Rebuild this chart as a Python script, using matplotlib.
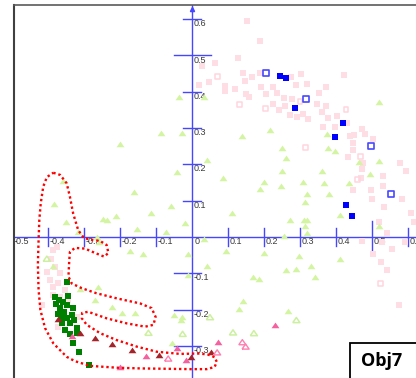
import numpy as np
import matplotlib
matplotlib.use('Agg')
import matplotlib.pyplot as plt
from matplotlib.patches import Rectangle

# ---------------- data ----------------
pink_sq_x = [0.153, 0.189, 0.063, 0.126, 0.026, 0.142, 0.166, 0.188, 0.146, 0.047, 0.018, 0.091, 0.091,
             0.119, 0.190, 0.225, 0.149, 0.158, 0.205, 0.236, 0.255, 0.276, 0.274, 0.302, 0.288, 0.319,
             0.225, 0.240, 0.258, 0.271, 0.290, 0.308, 0.321, 0.352, 0.372, 0.421, 0.347, 0.372, 0.360,
             0.378, 0.401, 0.431, 0.362, 0.396, 0.437, 0.449, 0.471, 0.479, 0.501, 0.447, 0.446, 0.433,
             0.474, 0.471, 0.577, 0.593, 0.529, 0.529, 0.496, 0.446, 0.469, 0.582, 0.498, 0.533, 0.607,
             0.616, 0.519, 0.542, 0.526, 0.590, 0.555, 0.503, 0.523, 0.542, 0.575, 0.471,
             -0.386, -0.377, -0.393, -0.404, -0.381, -0.367, -0.395, -0.386, -0.372, -0.354, -0.386,
             -0.367, -0.345, -0.418, -0.321, -0.372]
pink_sq_y = [0.596, 0.540, 0.479, 0.492, 0.471, 0.453, 0.440, 0.453, 0.430, 0.428, 0.419, 0.416, 0.403,
             0.407, 0.412, 0.414, 0.393, 0.387, 0.393, 0.396, 0.384, 0.379, 0.442, 0.450, 0.420, 0.421,
             0.366, 0.350, 0.361, 0.335, 0.331, 0.339, 0.324, 0.398, 0.414, 0.447, 0.366, 0.361, 0.344,
             0.328, 0.333, 0.315, 0.304, 0.302, 0.278, 0.280, 0.298, 0.283, 0.269, 0.259, 0.240, 0.220,
             0.203, 0.187, 0.205, 0.182, 0.167, 0.140, 0.130, 0.129, 0.162, 0.105, 0.105, 0.083, 0.067,
             0.040, 0.042, 0.010, -0.013, -0.014, -0.033, -0.047, -0.068, -0.091, -0.187, -0.010,
             -0.036, -0.027, -0.061, -0.096, -0.082, -0.100, -0.118, -0.137, -0.128, -0.146, -0.160,
             -0.164, -0.174, -0.187, -0.220, -0.247]

pink_open_x = [0.069, 0.130, 0.203, 0.299, 0.427, 0.314, 0.467, 0.458, 0.523]
pink_open_y = [0.442, 0.366, 0.353, 0.373, 0.352, 0.247, 0.222, 0.159, -0.128]

blue_x = [0.244, 0.259, 0.286, 0.419, 0.397, 0.427, 0.445]
blue_y = [0.444, 0.439, 0.355, 0.313, 0.276, 0.088, 0.058]

blue_open_x = [0.206, 0.315, 0.496, 0.551]
blue_open_y = [0.451, 0.381, 0.252, 0.118]

green_tri_x = [-0.037, 0.033, -0.088, -0.028, -0.200, 0.040, -0.042, -0.360, -0.161, -0.384, -0.351,
               -0.249, -0.236, -0.212, -0.115, -0.058, -0.020, -0.154, -0.074, -0.318, -0.266, -0.259,
               -0.173, -0.136, -0.013, 0.040, -0.011, -0.263, -0.311, -0.270, -0.224, -0.194, -0.158,
               -0.051, -0.029, -0.032, -0.056, 0.169, 0.184, 0.142, 0.129, 0.267, 0.200, 0.187,
               0.246, 0.308, 0.366, 0.434, 0.318, 0.313, 0.379, 0.109, 0.271, 0.309, 0.319, 0.314, 0.409,
               0.520, 0.320, 0.255, 0.033, 0.094, 0.200, 0.296, 0.330, 0.259, 0.288, 0.410, 0.341, 0.137,
               0.216, 0.249, 0.260, 0.250, 0.084, 0.519, 0.374, 0.378, 0.397, 0.361, 0.463, 0.519, 0.494,
               -0.386]
green_tri_y = [0.385, 0.387, 0.286, 0.287, 0.255, 0.212, 0.180, 0.155, 0.125, 0.091, 0.041,
               0.049, 0.047, 0.058, 0.067, 0.085, 0.039, 0.023, 0.015, 0.015, 0.000, -0.013,
               -0.038, -0.047, -0.047, -0.079, -0.105, -0.137, -0.143, -0.174, -0.194, -0.208, -0.209,
               -0.215, -0.220, -0.229, -0.291, -0.109, -0.116, -0.177, -0.199, -0.204, 0.151, 0.132,
               0.140, 0.152, 0.150, 0.148, 0.118, 0.097, 0.118, 0.067, 0.048, 0.048, 0.048, 0.030, 0.061,
               0.029, 0.011, 0.004, -0.006, -0.039, -0.043, -0.052, -0.079, -0.090, -0.089, -0.061, -0.109, 0.277,
               0.295, 0.245, 0.219, 0.183, 0.162, 0.373, 0.283, 0.244, 0.238, 0.183, 0.207, 0.210, 0.174,
               -0.080]

green_open_x = [-0.404, -0.122, -0.027, 0.049, 0.113, 0.171, 0.289]
green_open_y = [-0.060, -0.264, -0.267, -0.221, -0.263, -0.265, -0.229]

dkgreen_x = [-0.349, -0.381, -0.370, -0.358, -0.349, -0.331, -0.368, -0.372, -0.356, -0.335, -0.349,
             -0.363, -0.340, -0.354, -0.321, -0.321, -0.340, -0.331, -0.314, -0.288, -0.378, -0.345,
             -0.362, -0.328]
dkgreen_y = [-0.123, -0.166, -0.174, -0.178, -0.187, -0.196, -0.196, -0.213, -0.207, -0.215, -0.224,
             -0.238, -0.238, -0.256, -0.252, -0.265, -0.267, -0.293, -0.318, -0.353, -0.185, -0.163,
             -0.223, -0.229]

dkred_x = [-0.374, -0.312, -0.270, -0.224, -0.167, -0.092, -0.004, 0.051]
dkred_y = [-0.226, -0.264, -0.278, -0.295, -0.312, -0.324, -0.331, -0.318]

hotpink_x = [-0.335, -0.200, -0.128, -0.043, -0.018, 0.072, 0.231]
hotpink_y = [-0.273, -0.357, -0.327, -0.307, -0.340, -0.289, -0.242]

pink_tri_open_x = [-0.067, 0.069, 0.139, 0.148]
pink_tri_open_y = [-0.335, -0.318, -0.290, -0.302]

contour_x = [-0.386, -0.367, -0.349, -0.340, -0.331, -0.317, -0.301, -0.278, -0.256, -0.238, -0.233,
             -0.245, -0.270, -0.298, -0.326, -0.340, -0.342, -0.344, -0.335, -0.307, -0.266, -0.210,
             -0.145, -0.113, -0.102, -0.108, -0.131, -0.182, -0.238, -0.289, -0.306, -0.307, -0.293,
             -0.256, -0.210, -0.154, -0.099, -0.034, 0.021, 0.044, 0.062, 0.068, 0.062, 0.040, -0.006,
             -0.071, -0.145, -0.210, -0.284, -0.326, -0.349, -0.386, -0.409, -0.422, -0.427, -0.429,
             -0.427, -0.425, -0.421, -0.414, -0.404, -0.386]
contour_y = [0.177, 0.171, 0.148, 0.111, 0.065, 0.019, -0.003, -0.008, -0.011, -0.022, -0.044,
             -0.054, -0.044, -0.032, -0.030, -0.041, -0.068, -0.109, -0.128, -0.141, -0.155, -0.169,
             -0.183, -0.196, -0.220, -0.242, -0.247, -0.238, -0.224, -0.206, -0.209, -0.224, -0.242,
             -0.265, -0.284, -0.302, -0.316, -0.322, -0.321, -0.324, -0.331, -0.344, -0.358, -0.364, -0.364,
             -0.363, -0.362, -0.360, -0.355, -0.342, -0.330, -0.293, -0.251, -0.201, -0.146, -0.077,
             -0.008, 0.047, 0.093, 0.139, 0.165, 0.177]

xticks = [-0.5, -0.4, -0.3, -0.2, -0.1, 0.1, 0.2, 0.3, 0.4, 0.5, 0.6]
yticks = [-0.3, -0.2, -0.1, 0.1, 0.2, 0.3, 0.4, 0.5, 0.6]
box_label = "Obj7"

# ---------------- drawing ----------------
AXC = '#4646ff'
LBL = '#3a3a3a'
FONT = ['Liberation Sans', 'DejaVu Sans']

fig = plt.figure(figsize=(4.16, 3.78), dpi=100)
fig.patch.set_facecolor('white')
ax = fig.add_axes([14 / 416, 0, 402 / 416, 373 / 378])
ax.set_xlim(-0.4953, 0.6214)
ax.set_ylim(-0.3884, 0.6391)
ax.set_xticks([])
ax.set_yticks([])
ax.spines['right'].set_visible(False)
ax.spines['bottom'].set_visible(False)
ax.spines['left'].set_color('#404040')
ax.spines['left'].set_linewidth(1.5)
ax.spines['top'].set_color('#5a5a5a')
ax.spines['top'].set_linewidth(1.2)

# axis lines through the origin
ax.axhline(0, color=AXC, lw=1.0, zorder=1)
ax.axvline(0, color=AXC, lw=1.0, zorder=1)
ax.plot([0], [0.628], marker='^', ms=3, color=AXC, zorder=1, clip_on=False)

for v in xticks:
    h = 0.044 if abs(v - 0.5) < 1e-9 else 0.025
    ax.plot([v, v], [-h, h], color=AXC, lw=1.0, zorder=1)
    ax.annotate(f"{v:.1f}", xy=(v, 0), xytext=(1.2, -3.3), textcoords='offset points',
                ha='left', va='center', fontsize=6.5, color=LBL, family=FONT, zorder=1,
                annotation_clip=False)
for v in yticks:
    if abs(v - 0.5) < 1e-9:
        x0, x1 = -0.05, 0.052
    elif v < 0:
        x0, x1 = -0.05, 0.025
    else:
        x0, x1 = -0.025, 0.025
    ax.plot([x0, x1], [v, v], color=AXC, lw=1.0, zorder=1)
    ax.annotate(f"{v:.1f}", xy=(0, v), xytext=(0.7, -3.3), textcoords='offset points',
                ha='left', va='center', fontsize=6.5, color=LBL, family=FONT, zorder=1,
                annotation_clip=False)
ax.annotate("0", xy=(0, 0), xytext=(1.5, -3.3), textcoords='offset points',
            ha='left', va='center', fontsize=6.5, color=LBL, family=FONT, zorder=1)

tri = [(-1, -0.7), (1, -0.7), (0, 0.75), (-1, -0.7)]

ax.scatter(pink_sq_x, pink_sq_y, marker='s', s=14, color='#ffdde4', lw=0, zorder=2)
ax.scatter(pink_open_x, pink_open_y, marker='s', s=12, facecolor='none', edgecolor='#ffd6de', lw=1.1, zorder=2)
ax.scatter(green_tri_x, green_tri_y, marker=tri, s=32, color='#d3f5a2', lw=0, zorder=3)
ax.scatter(green_open_x, green_open_y, marker=tri, s=26, facecolor='none', edgecolor='#ccf0a0', lw=1.1, zorder=3)
ax.scatter(dkgreen_x, dkgreen_y, marker='s', s=22, color='#008000', lw=0, zorder=4)
ax.scatter(blue_x, blue_y, marker='s', s=19, color='#0000ff', lw=0, zorder=5)
ax.scatter(blue_open_x, blue_open_y, marker='s', s=17, facecolor='white', edgecolor='#4848ff', lw=1.2, zorder=5)
ax.scatter(dkred_x, dkred_y, marker=tri, s=32, color='#a3242a', lw=0, zorder=5)
ax.scatter(hotpink_x, hotpink_y, marker=tri, s=32, color='#f5609f', lw=0, zorder=5)
ax.scatter(pink_tri_open_x, pink_tri_open_y, marker=tri, s=26, facecolor='none', edgecolor='#ff7fb0', lw=1.0, zorder=5)

ax.plot(contour_x, contour_y, color='#ff0000', lw=1.7, linestyle=(0, (1, 1.2)),
        dash_capstyle='butt', zorder=6)

# label box in lower right
fig.patches.append(Rectangle((349.5 / 416, -0.05), 0.3, 0.05 + (378 - 342.5) / 378,
                             transform=fig.transFigure, facecolor='white', edgecolor='black',
                             lw=1.3, zorder=10))
fig.text(381.5 / 416, 1 - 361.5 / 378, box_label, ha='center', va='center', fontsize=13,
         fontweight='bold', family=['Open Sans', 'DejaVu Sans'], color='black', zorder=11)

fig.savefig('out.png', dpi=100)
